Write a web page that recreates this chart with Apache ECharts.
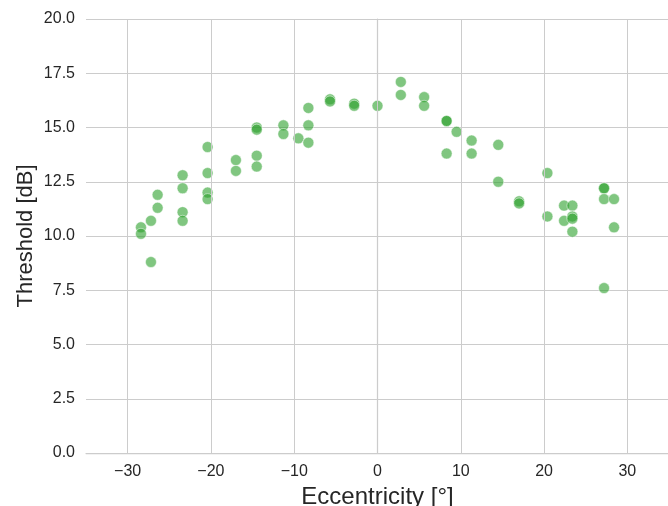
<!DOCTYPE html>
<html>
<head>
<meta charset="utf-8">
<script src="https://cdn.jsdelivr.net/npm/echarts@6/dist/echarts.min.js"></script>
<style>
html,body{margin:0;padding:0;background:#fff;}
#chart{width:668px;height:506px;}
</style>
</head>
<body>
<div id="chart"></div>
<script>
// Data
const eccentricity = [
  -28.4, -28.4, -27.2, -27.2, -26.4, -26.4,
  -23.4, -23.4, -23.4, -23.4,
  -20.4, -20.4, -20.4, -20.4,
  -17.0, -17.0,
  -14.5, -14.5, -14.5, -14.5,
  -11.3, -11.3, -9.5,
  -8.3, -8.3, -8.3,
  -5.7, -5.7, -2.8, -2.8, 0.0,
  2.8, 2.8, 5.6, 5.6,
  8.3, 8.3, 8.3, 9.5,
  11.3, 11.3, 14.5, 14.5,
  17.0, 17.0, 20.4, 20.4,
  22.4, 22.4,
  23.4, 23.4, 23.4, 23.4,
  27.2, 27.2, 27.2, 27.2,
  28.4, 28.4
];
const threshold = [
  10.4, 10.1, 8.8, 10.7, 11.3, 11.9,
  12.8, 12.2, 11.1, 10.7,
  14.1, 12.9, 12.0, 11.7,
  13.5, 13.0,
  15.0, 14.9, 13.7, 13.2,
  15.1, 14.7, 14.5,
  15.9, 15.1, 14.3,
  16.3, 16.2, 16.1, 16.0, 16.0,
  17.1, 16.5, 16.4, 16.0,
  15.3, 15.3, 13.8, 14.8,
  14.4, 13.8, 14.2, 12.5,
  11.6, 11.5, 12.9, 10.9,
  11.4, 10.7,
  11.4, 10.9, 10.8, 10.2,
  12.2, 12.2, 11.7, 7.6,
  11.7, 10.4
];
const xTicks = [-30, -20, -10, 0, 10, 20, 30];
const yTicks = [0, 2.5, 5, 7.5, 10, 12.5, 15, 17.5, 20];

const points = eccentricity.map((x, i) => [x, threshold[i]]);
const textColor = '#262626';
const gridColor = '#cccccc';
const fontFamily = '"Liberation Sans", Arial, sans-serif';

const chart = echarts.init(document.getElementById('chart'), null, {renderer: 'canvas'});
chart.setOption({
  backgroundColor: '#ffffff',
  animation: false,
  grid: {left: 86, top: 19, width: 583, height: 434, containLabel: false, outerBoundsMode: 'none'},
  xAxis: {
    type: 'value',
    min: -35, max: 35, interval: 5,
    name: 'Eccentricity [°]',
    nameLocation: 'middle',
    nameGap: 32,
    nameTextStyle: {color: textColor, fontSize: 24, fontFamily: fontFamily},
    axisLine: {show: true, lineStyle: {color: gridColor, width: 1.25}},
    axisTick: {show: false},
    splitLine: {show: false},
    axisLabel: {
      color: textColor, fontSize: 16, fontFamily: fontFamily, margin: 11,
      formatter: v => xTicks.indexOf(v) >= 0 ? (v < 0 ? '\u2212' + Math.abs(v) : String(v)) : ''
    }
  },
  yAxis: {
    type: 'value',
    min: yTicks[0], max: yTicks[yTicks.length - 1], interval: 2.5,
    name: 'Threshold [dB]',
    nameLocation: 'middle',
    nameGap: 49,
    nameMoveOverlap: false,
    nameTextStyle: {color: textColor, fontSize: 22, fontFamily: fontFamily},
    axisLine: {show: true, lineStyle: {color: gridColor, width: 1.25}},
    axisTick: {show: false},
    splitLine: {show: true, lineStyle: {color: gridColor, width: 1}},
    axisLabel: {
      color: textColor, fontSize: 16, fontFamily: fontFamily, margin: 11,
      formatter: v => v.toFixed(1)
    }
  },
  series: [
    {
      type: 'scatter',
      data: [],
      silent: true,
      z: 1,
      markLine: {
        silent: true,
        symbol: ['none', 'none'],
        label: {show: false},
        lineStyle: {color: gridColor, width: 1, type: 'solid'},
        emphasis: {disabled: true},
        animation: false,
        data: xTicks.map(v => ({xAxis: v}))
      }
    },
    {
      type: 'scatter',
      data: points,
      z: 3,
      symbol: 'circle',
      symbolSize: 11,
      itemStyle: {color: '#2ca02c', opacity: 0.6, borderColor: '#ffffff', borderWidth: 0.8},
      emphasis: {disabled: true}
    }
  ]
});
</script>
</body>
</html>
